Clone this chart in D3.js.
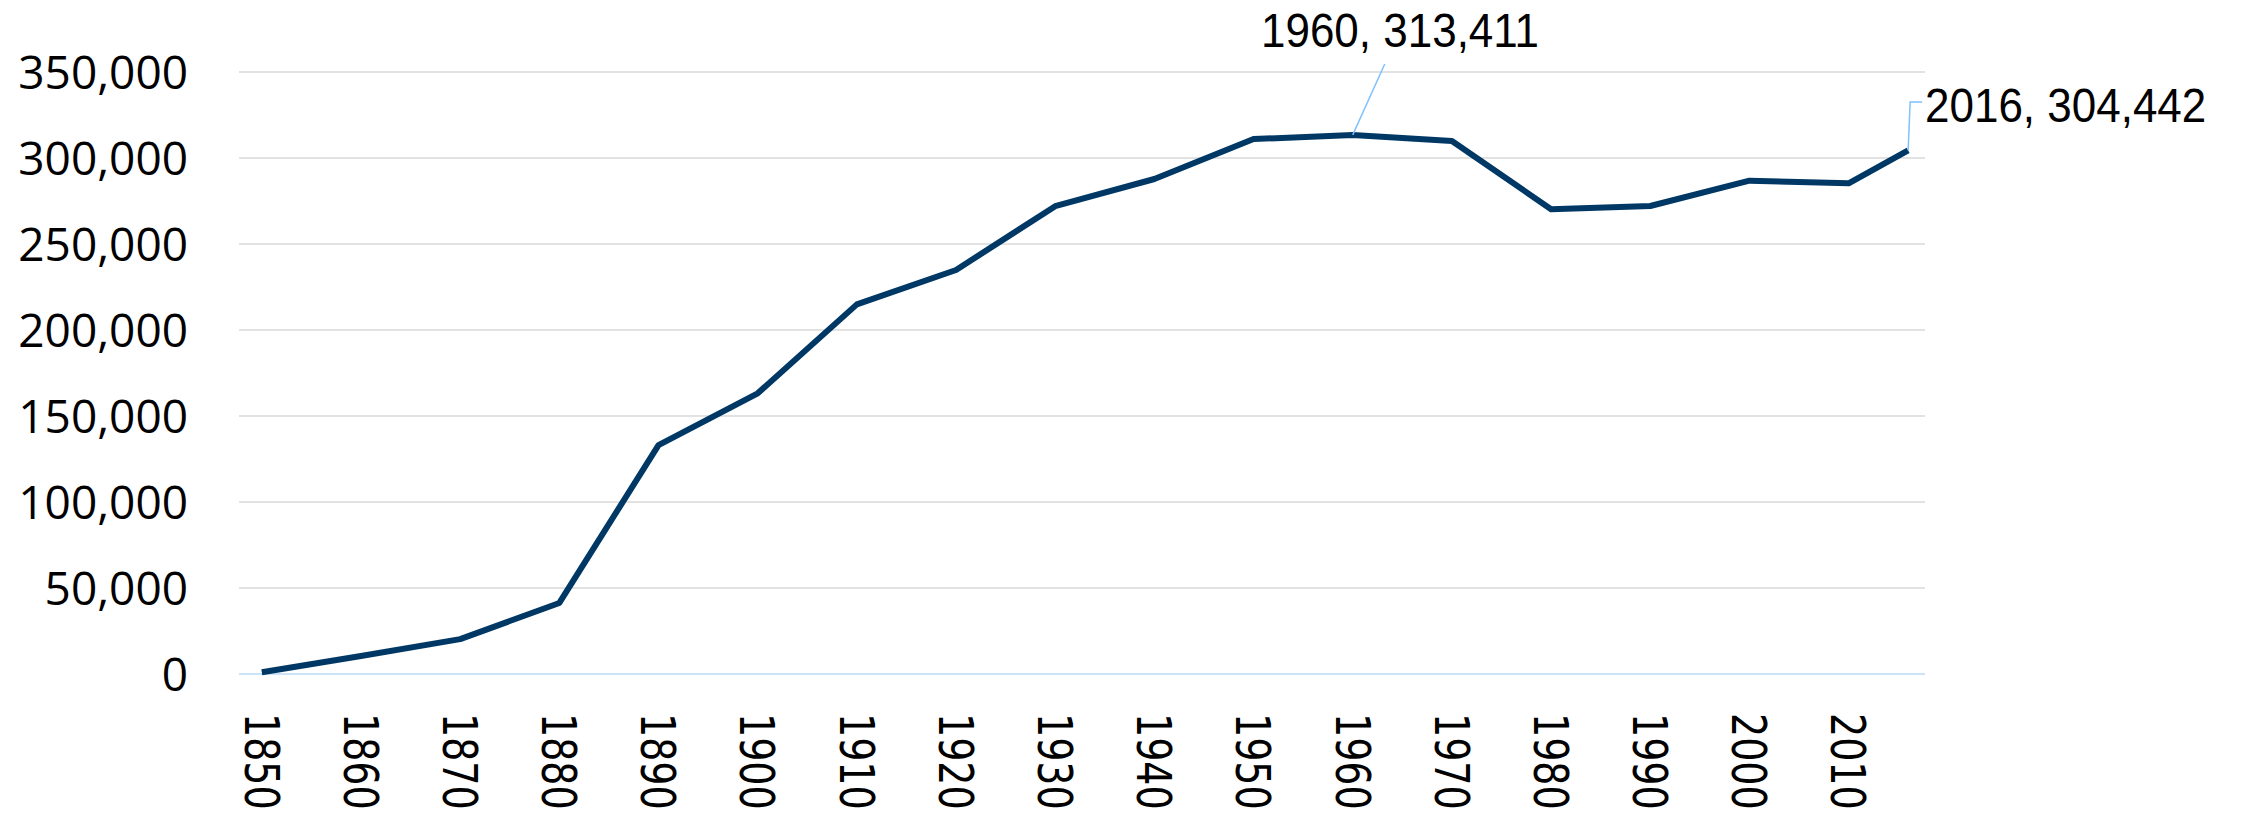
<!DOCTYPE html>
<html>
<head>
    <title>Population 1850-2016</title>
    <style>
        body { margin: 0; background: #fff; }
        svg { display: block; }
        .grid line { stroke: #d9d9d9; stroke-width: 1.5px; }
        .ylab { font-family: "Open Sans", sans-serif; font-size: 46px; fill: #000; }
        .xlab { font-family: "DejaVu Sans", sans-serif; font-size: 38px; fill: #000; }
        .note { font-family: "Liberation Sans", sans-serif; font-size: 44px; fill: #000; }
    </style>
</head>
<body>
    <svg id="chart" width="2261" height="817"></svg>
    <script src="https://d3js.org/d3.v7.min.js"></script>
    <script>
        // Data
        const years = [1850, 1860, 1870, 1880, 1890, 1900, 1910, 1920, 1930, 1940,
                       1950, 1960, 1970, 1980, 1990, 2000, 2010, 2016];
        const population = [1000, 10500, 20300, 41300, 133100, 163200, 214900, 234900, 272000, 287800,
                            311000, 313411, 309900, 270200, 272100, 286800, 285300, 304442];
        const yTicks = [0, 50000, 100000, 150000, 200000, 250000, 300000, 350000];
        const xTicks = [1850, 1860, 1870, 1880, 1890, 1900, 1910, 1920, 1930,
                        1940, 1950, 1960, 1970, 1980, 1990, 2000, 2010];
        const callouts = [
            {year: 1960, value: 313411, label: "1960, 313,411"},
            {year: 2016, value: 304442, label: "2016, 304,442"}
        ];

        const svg = d3.select("#chart");
        const fmt = d3.format(",");

        // Scales
        const x = d3.scaleLinear().domain([1847.7, 2017.7]).range([239, 1925]);
        const y = d3.scaleLinear().domain([0, 350000]).range([674, 72]);

        // Gridlines
        svg.append("g").attr("class", "grid")
            .selectAll("line")
            .data(yTicks.filter(d => d > 0))
            .enter().append("line")
            .attr("x1", x.range()[0]).attr("x2", x.range()[1])
            .attr("y1", d => y(d)).attr("y2", d => y(d));

        // Zero axis line
        svg.append("line")
            .attr("x1", x.range()[0]).attr("x2", x.range()[1])
            .attr("y1", y(0)).attr("y2", y(0))
            .attr("stroke", "#cce4fa").attr("stroke-width", 2);

        // Y labels
        svg.append("g")
            .selectAll("text")
            .data(yTicks)
            .enter().append("text")
            .attr("class", "ylab")
            .attr("x", 188)
            .attr("y", d => y(d))
            .attr("dy", "0.36em")
            .attr("text-anchor", "end")
            .text(d => fmt(d));

        // X labels, rotated and stretched a bit across
        svg.append("g")
            .selectAll("text")
            .data(xTicks)
            .enter().append("text")
            .attr("class", "xlab")
            .attr("transform", d => `translate(${x(d)},713) rotate(90) scale(1,1.26)`)
            .attr("dy", "0.36em")
            .text(d => d);

        // Line
        const line = d3.line()
            .x((d, i) => x(years[i]))
            .y(d => y(d));

        svg.append("path")
            .datum(population)
            .attr("fill", "none")
            .attr("stroke", "#003865")
            .attr("stroke-width", 6)
            .attr("stroke-linejoin", "round")
            .attr("d", line);

        // Callout leaders
        const c0 = callouts[0], c1 = callouts[1];
        svg.append("line")
            .attr("x1", x(c0.year)).attr("y1", y(c0.value))
            .attr("x2", x(c0.year) + 32).attr("y2", 64)
            .attr("stroke", "#7fc1ff").attr("stroke-width", 1.5);

        svg.append("path")
            .attr("fill", "none")
            .attr("stroke", "#7fc1ff").attr("stroke-width", 1.5)
            .attr("d", `M${x(c1.year)},${y(c1.value)} L${x(c1.year) + 2},102 L${x(c1.year) + 14},102`);

        // Callout labels
        svg.append("text")
            .attr("class", "note")
            .attr("transform", "translate(1539,47) scale(1,1.11)")
            .attr("text-anchor", "end")
            .text(c0.label);

        svg.append("text")
            .attr("class", "note")
            .attr("transform", "translate(1925,122) scale(1,1.11)")
            .text(c1.label);
    </script>
</body>
</html>
